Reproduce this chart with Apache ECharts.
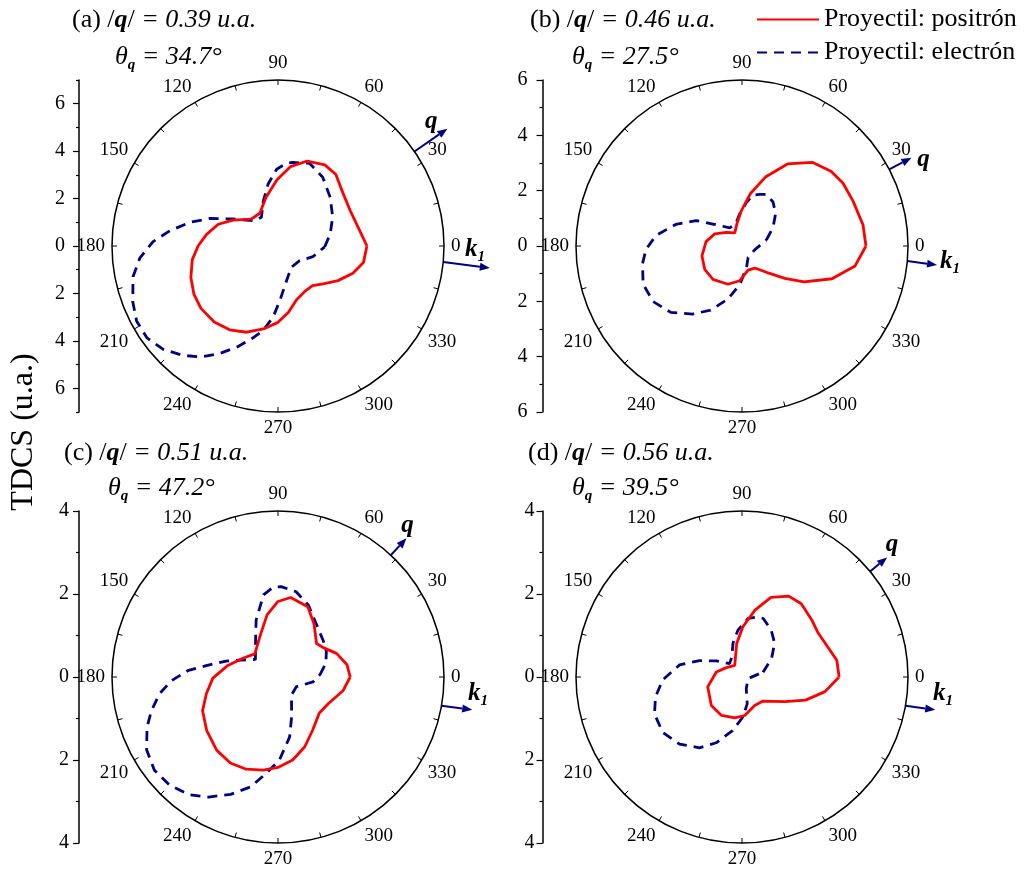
<!DOCTYPE html>
<html><head><meta charset="utf-8">
<script src="https://cdn.jsdelivr.net/npm/echarts@6/dist/echarts.min.js"></script>
<style>html,body{margin:0;padding:0;background:#fff}#c{width:1024px;height:870px}</style>
</head><body><div id="c"></div>
<script>
// ---------- data ----------
const panelLabels = ['(a)', '(b)', '(c)', '(d)'];
const qMagnitudes = ['0.39', '0.46', '0.51', '0.56'];
const thetaQ = [34.7, 27.5, 47.2, 39.5];
const radialMax = [7, 6, 4, 4];
const yMajorTicks = [[-6,-4,-2,0,2,4,6],[-6,-4,-2,0,2,4,6],[-4,-2,0,2,4],[-4,-2,0,2,4]];
const yMinorTicks = [[-7,-5,-3,-1,1,3,5,7],[-5,-3,-1,1,3,5],[-3,-1,1,3],[-3,-1,1,3]];
const angleLabels = [0,30,60,90,120,150,180,210,240,270,300,330];
const seriesNames = ['Proyectil: positrón', 'Proyectil: electrón'];

// (a) |q| = 0.39
const aPosAngle = [0,11,26,40,51,60,71,81,91,104,119,135,150,160,171,180,189,200,210,219,230,240,250,260,270,279,289,301,311,321,330,340,349];
const aPosR     = [3.75,3.50,3.39,3.55,3.88,3.95,3.79,3.39,2.78,2.11,1.58,1.60,2.19,2.68,3.06,3.37,3.66,3.91,4.09,4.18,4.18,4.08,3.87,3.55,3.22,2.83,2.40,2.22,2.22,2.52,2.92,3.36,3.67];
const aEleAngle = [359,13,28,43,57,69,80,84,91,99,108,120,133,149,158,165,172,178,185,192,201,208,215,222,229,235,241,248,254,260,266,272,284,302,326,343];
const aEleR     = [1.97,2.26,2.61,3.01,3.46,3.73,3.58,3.51,3.24,2.65,2.00,1.40,1.45,2.21,3.10,3.85,4.61,5.27,5.85,6.25,6.56,6.75,6.75,6.51,6.11,5.71,5.21,4.59,4.08,3.62,3.01,2.30,1.50,1.06,1.10,1.54];

// (b) |q| = 0.46
const bPosAngle = [0,10,22,32,40,50,61,71,81,91,103,119,139,156,173,194,212,229,250,266,284,300,313,323,330,340,350];
const bPosR     = [4.48,4.44,4.33,4.30,4.20,3.95,3.39,2.65,1.91,1.28,0.82,0.54,0.75,1.08,1.31,1.49,1.59,1.60,1.47,1.26,0.90,0.92,1.30,1.94,2.59,3.46,4.15];
const bEleAngle = [14,31,44,55,65,71,78,84,94,106,124,143,151,162,173,182,190,201,212,223,234,244,255,267,282,298,343];
const bEleR     = [0.91,1.31,1.69,1.95,2.06,1.97,1.88,1.59,1.17,0.83,0.79,1.32,1.90,2.52,3.13,3.47,3.65,3.83,3.79,3.52,3.04,2.58,1.99,1.38,0.79,0.47,0.48];

// (c) |q| = 0.51
const cPosAngle = [0,10,22,33,41,56,67,81,90,100,114,135,152,167,181,193,204,217,230,241,251,261,270,280,291,303,319,332,348];
const cPosR     = [1.74,1.69,1.52,1.30,1.23,1.55,1.84,1.94,1.82,1.52,1.07,0.79,0.96,1.24,1.57,1.77,1.99,2.15,2.30,2.37,2.35,2.27,2.18,2.03,1.80,1.53,1.32,1.37,1.60];
const cEleAngle = [3,16,28,39,55,67,78,88,93,100,111,124,142,155,163,171,176,182,188,195,201,209,217,225,233,240,248,256,263,271,281,289,307,332,352];
const cEleR     = [1.01,1.20,1.32,1.40,1.59,1.88,2.10,2.18,2.17,2.01,1.47,0.97,0.69,0.97,1.31,1.75,2.18,2.57,2.88,3.16,3.38,3.62,3.73,3.69,3.55,3.34,3.05,2.73,2.34,2.00,1.47,1.01,0.54,0.50,0.85];

// (d) |q| = 0.56
const dPosAngle = [0,10,30,39,51,60,70,79,89,99,122,149,169,196,223,242,260,274,294,311,330,340,350];
const dPosR     = [2.34,2.32,2.12,2.17,2.27,2.25,2.04,1.64,1.21,0.82,0.33,0.44,0.63,0.86,1.01,1.05,1.00,0.93,0.75,0.77,1.19,1.63,2.03];
const dEleAngle = [13,32,46,58,70,75,84,95,105,117,133,148,159,169,182,193,203,215,227,239,249,260,271,281,290,345];
const dEleR     = [0.52,0.84,1.13,1.33,1.50,1.50,1.42,1.13,0.84,0.54,0.44,0.73,1.10,1.53,1.91,2.14,2.29,2.33,2.21,1.99,1.69,1.31,0.97,0.66,0.30,0.15];

const posAngles = [aPosAngle, bPosAngle, cPosAngle, dPosAngle];
const posRadii  = [aPosR, bPosR, cPosR, dPosR];
const eleAngles = [aEleAngle, bEleAngle, cEleAngle, dEleAngle];
const eleRadii  = [aEleR, bEleR, cEleR, dEleR];

// ---------- layout ----------
const SERIF = 'Liberation Serif';
const centers = [[278,246],[742,246],[278,677],[742,677]];
const R = 166;
const axisX = [79, 542.5, 79, 542.5];
const yLabelMargin = [14, 15, 10, 8];
const qArrowLen = [40, 25, 23, 22];
const k1Tail = [-5.5, -5.2, -10, -10];
const k1Len = [47, 30, 31, 30];
const k1Dir = -7.5;
const qLabelOff = [[-16,-7],[12,2],[1,-13],[5,-13]];
const k1LabelPos = [[465,250],[940,262],[468,694],[933,694]];
const titlePos = [[72,20],[530,20],[64,453],[528,453]];
const thetaPos = [[115,57],[572,57],[108,488],[572,488]];

function closed(ang, r) {
  const d = ang.map((a, i) => [r[i], a]);
  d.push(d[0]);
  return d;
}

const chart = echarts.init(document.getElementById('c'), null, {renderer: 'canvas'});

const polar = [], angleAxis = [], radiusAxis = [], grid = [], xAxis = [], yAxis = [], series = [];
for (let i = 0; i < 4; i++) {
  polar.push({center: centers[i], radius: R});
  angleAxis.push({
    polarIndex: i, type: 'value', min: 0, max: 360, interval: 15,
    startAngle: 0, clockwise: false,
    axisLine: {lineStyle: {color: '#000', width: 1.5}},
    axisTick: {show: true, inside: true, length: 5, lineStyle: {color: '#000', width: 1}},
    axisLabel: {
      margin: 7, fontSize: 19, fontFamily: SERIF, color: '#000',
      formatter: v => (v < 360 && angleLabels.indexOf(v) >= 0) ? String(v) : ''
    },
    splitLine: {show: false}
  });
  radiusAxis.push({polarIndex: i, type: 'value', min: 0, max: radialMax[i], show: false,
    axisLine: {show: false}, axisTick: {show: false}, axisLabel: {show: false}, splitLine: {show: false}});
  grid.push({left: axisX[i], top: centers[i][1] - R, width: 20, height: 2 * R});
  xAxis.push({gridIndex: i, type: 'value', show: false});
  const m = radialMax[i];
  yAxis.push({
    gridIndex: i, type: 'value', min: -m, max: m, position: 'left',
    axisLine: {show: true, lineStyle: {color: '#000', width: 1.5}},
    axisTick: {show: true, length: 6, customValues: yMajorTicks[i], lineStyle: {color: '#000', width: 1.2}},
    axisLabel: {customValues: yMajorTicks[i], formatter: v => String(Math.abs(v)), fontSize: 20, fontFamily: SERIF, color: '#000', margin: yLabelMargin[i]},
    splitLine: {show: false}
  });
  yAxis.push({
    gridIndex: i, type: 'value', min: -m, max: m, position: 'left', offset: 0,
    axisLine: {show: false},
    axisTick: {show: true, length: 3, customValues: yMinorTicks[i], lineStyle: {color: '#000', width: 1.2}},
    axisLabel: {show: false}, splitLine: {show: false}
  });
  series.push({
    name: seriesNames[0], type: 'line', coordinateSystem: 'polar', polarIndex: i,
    data: closed(posAngles[i], posRadii[i]), symbol: 'none', smooth: false,
    lineStyle: {color: '#ff0000', width: 2.8}, itemStyle: {color: '#ff0000'}, z: 3
  });
  series.push({
    name: seriesNames[1], type: 'line', coordinateSystem: 'polar', polarIndex: i,
    data: closed(eleAngles[i], eleRadii[i]), symbol: 'none', smooth: false,
    lineStyle: {color: '#000080', width: 2.8, type: [10, 7]}, itemStyle: {color: '#000080'}, z: 2
  });
}

chart.setOption({
  animation: false,
  backgroundColor: '#fff',
  polar, angleAxis, radiusAxis, grid, xAxis, yAxis, series,
  legend: {
    orient: 'vertical', left: 751, top: 1.5, itemWidth: 62, itemHeight: 22, itemGap: 7,
    data: seriesNames,
    itemStyle: {opacity: 0},
    textStyle: {fontSize: 26, fontFamily: SERIF, color: '#000', lineHeight: 22}
  }
});

// ---------- annotations ----------
const NAVY = '#000080';
const graphic = [];
function arrow(x0, y0, x1, y1) {
  const dx = x1 - x0, dy = y1 - y0, L = Math.hypot(dx, dy);
  const ux = dx / L, uy = dy / L, head = 10, hw = 4;
  const bx = x1 - ux * head, by = y1 - uy * head;
  graphic.push({type: 'line', shape: {x1: x0, y1: y0, x2: bx, y2: by}, style: {stroke: NAVY, lineWidth: 2}});
  graphic.push({type: 'polygon', shape: {points: [[x1, y1], [bx - uy * hw, by + ux * hw], [bx + uy * hw, by - ux * hw]]}, style: {fill: NAVY}});
}
for (let i = 0; i < 4; i++) {
  const m = radialMax[i];
  // q arrow
  const t = chart.convertToPixel({polarIndex: i}, [m, thetaQ[i]]);
  const rad = thetaQ[i] * Math.PI / 180;
  const tip = [t[0] + Math.cos(rad) * qArrowLen[i], t[1] - Math.sin(rad) * qArrowLen[i]];
  arrow(t[0], t[1], tip[0], tip[1]);
  graphic.push({type: 'text', style: {text: 'q', x: tip[0] + qLabelOff[i][0], y: tip[1] + qLabelOff[i][1],
    fontSize: 25, fontFamily: SERIF, fontStyle: 'italic', fontWeight: 'bold', fill: '#000', align: 'center', verticalAlign: 'middle'}});
  // k1 arrow
  const k = chart.convertToPixel({polarIndex: i}, [m, k1Tail[i]]);
  const kr = k1Dir * Math.PI / 180;
  arrow(k[0], k[1], k[0] + Math.cos(kr) * k1Len[i], k[1] - Math.sin(kr) * k1Len[i]);
  graphic.push({type: 'text', style: {text: '{k|k}{s|1}', x: k1LabelPos[i][0], y: k1LabelPos[i][1],
    verticalAlign: 'middle', align: 'left',
    rich: {
      k: {fontSize: 25, fontFamily: SERIF, fontStyle: 'italic', fontWeight: 'bold', fill: '#000'},
      s: {fontSize: 15, fontFamily: SERIF, fontStyle: 'italic', fontWeight: 'bold', fill: '#000', padding: [14, 0, 0, 0]}
    }}});
  // titles
  graphic.push({type: 'text', style: {
    text: '{n|' + panelLabels[i] + ' /}{b|q}{n|/ }{i|= ' + qMagnitudes[i] + ' u.a.}',
    x: titlePos[i][0], y: titlePos[i][1], verticalAlign: 'middle', align: 'left',
    rich: {
      n: {fontSize: 26, fontFamily: SERIF, fill: '#000'},
      b: {fontSize: 26, fontFamily: SERIF, fontStyle: 'italic', fontWeight: 'bold', fill: '#000'},
      i: {fontSize: 26, fontFamily: SERIF, fontStyle: 'italic', fill: '#000'}
    }}});
  graphic.push({type: 'text', style: {
    text: '{i|θ}{s|q}{i| = ' + thetaQ[i].toFixed(1) + '°}',
    x: thetaPos[i][0], y: thetaPos[i][1], verticalAlign: 'middle', align: 'left',
    rich: {
      i: {fontSize: 26, fontFamily: SERIF, fontStyle: 'italic', fill: '#000'},
      s: {fontSize: 15, fontFamily: SERIF, fontStyle: 'italic', fontWeight: 'bold', fill: '#000', padding: [16, 0, 0, 0]}
    }}});
}
graphic.push({type: 'text', x: 24, y: 432, rotation: Math.PI / 2,
  style: {text: 'TDCS (u.a.)', x: 0, y: 0, align: 'center', verticalAlign: 'middle',
    fontSize: 32, fontFamily: SERIF, fill: '#000'}});

chart.setOption({graphic});
</script>
</body></html>
